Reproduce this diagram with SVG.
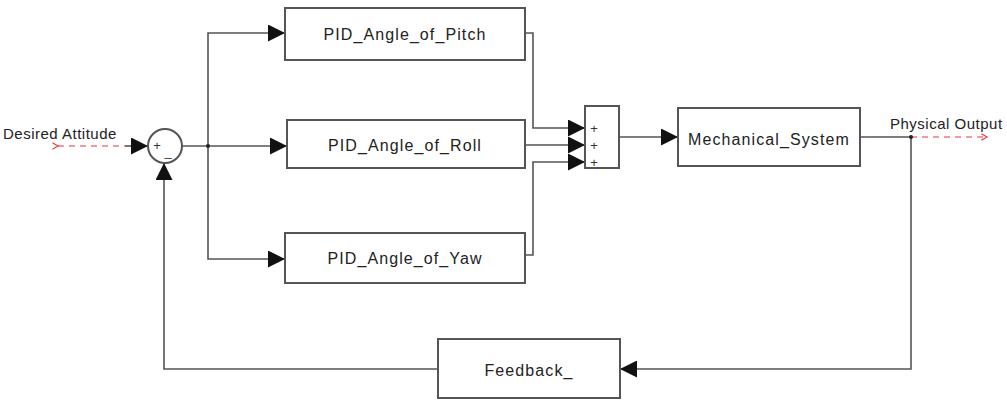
<svg xmlns="http://www.w3.org/2000/svg" width="1007" height="401" viewBox="0 0 1007 401">
<defs>
<marker id="arr" viewBox="0 0 10 10" refX="10" refY="5" markerWidth="17" markerHeight="17" markerUnits="userSpaceOnUse" orient="auto">
<path d="M0,0 L10,5 L0,10 Z" fill="#111"/>
</marker>
<marker id="chev" viewBox="0 0 10 10" refX="8" refY="5" markerWidth="8" markerHeight="8" markerUnits="userSpaceOnUse" orient="auto">
<path d="M1,1 L8,5 L1,9" fill="none" stroke="#e0404a" stroke-width="1.5"/>
</marker>
</defs>
<style>
.blk{fill:#fff;stroke:#555;stroke-width:2}
.ln{fill:none;stroke:#555;stroke-width:1.6}
.dash{fill:none;stroke:#ec7b86;stroke-width:1.6;stroke-dasharray:6,5}
.t{font-family:"Liberation Sans",Arial,sans-serif;font-size:16px;letter-spacing:1.1px;fill:#222}
.lbl{font-family:"Liberation Sans",Arial,sans-serif;font-size:15px;letter-spacing:0.5px;fill:#222}
.s{font-family:"Liberation Sans",Arial,sans-serif;font-size:13px;fill:#333;text-anchor:middle}
.c{text-anchor:middle}
.dot{fill:#222}
</style>
<rect width="1007" height="401" fill="#fff"/>
<g id="connectors">
<path class="dash" d="M58,146 L125,146" marker-start="url(#chev)"/>
<path class="ln" d="M125,146 L148,146" marker-end="url(#arr)"/>
<path class="ln" d="M182,146 L287,146" marker-end="url(#arr)"/>
<path class="ln" d="M208,146 L208,33 L285,33" marker-end="url(#arr)"/>
<path class="ln" d="M208,146 L208,259 L285,259" marker-end="url(#arr)"/>
<path class="ln" d="M525,33 L533,33 L533,128 L585,128" marker-end="url(#arr)"/>
<path class="ln" d="M525,145 L585,145" marker-end="url(#arr)"/>
<path class="ln" d="M525,255 L533,255 L533,162 L585,162" marker-end="url(#arr)"/>
<path class="ln" d="M619,137 L678,137" marker-end="url(#arr)"/>
<path class="ln" d="M860,137 L911,137"/>
<path class="dash" d="M911,137 L987,137" marker-end="url(#chev)"/>
<path class="ln" d="M911,137 L911,369 L620,369" marker-end="url(#arr)"/>
<path class="ln" d="M438,369 L164,369 L164,163" marker-end="url(#arr)"/>
<circle class="dot" cx="208" cy="146" r="2"/>
<circle class="dot" cx="911" cy="137" r="2"/>
</g>
<g id="desired_attitude">
<text class="lbl" x="3" y="139">Desired Attitude</text>
</g>
<g id="sum">
<circle cx="165" cy="146" r="17" fill="#fff" stroke="#555" stroke-width="2"/>
<text class="s" x="157" y="150">+</text>
<text class="s" x="168" y="156">_</text>
</g>
<g id="pid_pitch">
<rect class="blk" x="285" y="8" width="240" height="52"/>
<text class="t c" x="405" y="40">PID_Angle_of_Pitch</text>
</g>
<g id="pid_roll">
<rect class="blk" x="287" y="120" width="238" height="48"/>
<text class="t c" x="405" y="151">PID_Angle_of_Roll</text>
</g>
<g id="pid_yaw">
<rect class="blk" x="285" y="233" width="240" height="50"/>
<text class="t c" x="405" y="264">PID_Angle_of_Yaw</text>
</g>
<g id="mux">
<rect class="blk" x="585" y="106" width="34" height="62"/>
<text class="s" x="594" y="133">+</text>
<text class="s" x="594" y="150">+</text>
<text class="s" x="594" y="167">+</text>
</g>
<g id="mechanical_system">
<rect class="blk" x="678" y="108" width="182" height="58"/>
<text class="t c" x="769" y="145">Mechanical_System</text>
</g>
<g id="physical_output">
<text class="lbl" x="890" y="129">Physical Output</text>
</g>
<g id="feedback">
<rect class="blk" x="438" y="339" width="182" height="59"/>
<text class="t c" x="529" y="376">Feedback_</text>
</g>
</svg>
